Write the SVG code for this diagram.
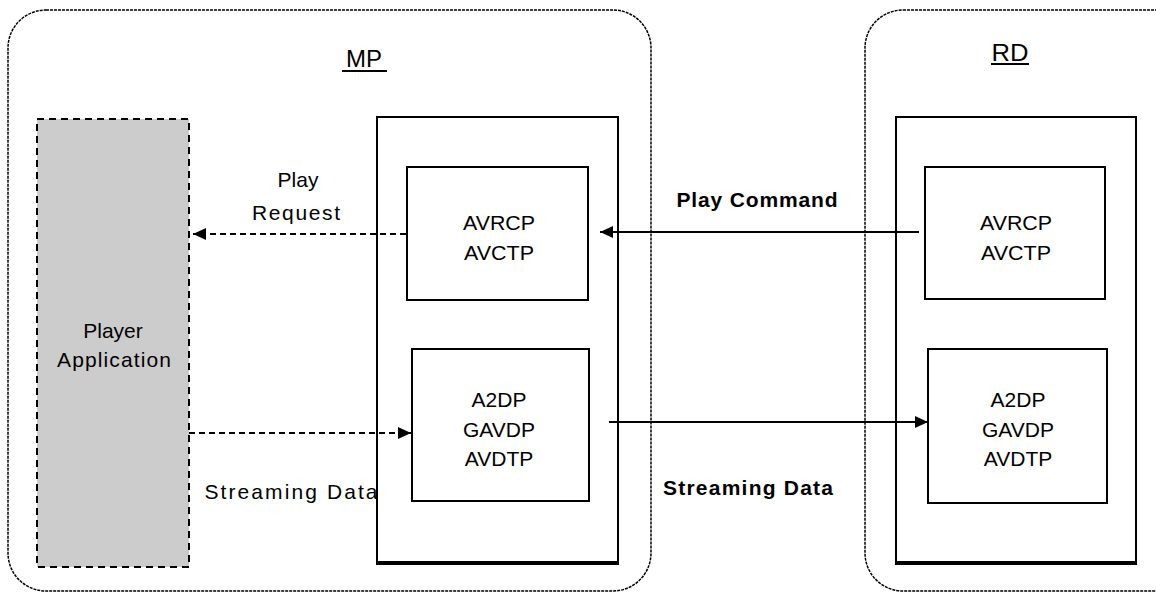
<svg xmlns="http://www.w3.org/2000/svg" width="1156" height="592" viewBox="0 0 1156 592">
<style>
.container{fill:none;stroke:#000;stroke-width:1.5;stroke-dasharray:3 1}
.box{fill:#fff;stroke:#000;stroke-width:2}
.t{font-family:"Liberation Sans",Arial,sans-serif;font-size:21px;fill:#000;text-anchor:middle}
.b{font-weight:bold}
.title{font-family:"Liberation Sans",Arial,sans-serif;font-size:24px;fill:#000;text-anchor:middle}
.solid{fill:none;stroke:#000;stroke-width:2}
.dash{fill:none;stroke:#000;stroke-width:2;stroke-dasharray:6 4}
</style>
<defs>
<marker id="ah" markerUnits="userSpaceOnUse" markerWidth="14" markerHeight="12" refX="13" refY="6" orient="auto">
<path d="M0,0 L13,6 L0,12 Z" fill="#000"/>
</marker>
</defs>
<rect width="1156" height="592" fill="#fff"/>

<g id="mp">
<rect class="container" x="8" y="10" width="643" height="581" rx="38" ry="38"/>
<text class="title" x="364" y="67">MP</text>
<line x1="342" y1="71" x2="387" y2="71" stroke="#000" stroke-width="2"/>
</g>

<g id="rd">
<rect class="container" x="865" y="10" width="330" height="581" rx="38" ry="38"/>
<text class="title" x="1010" y="61" textLength="37" lengthAdjust="spacingAndGlyphs" font-size="27">RD</text>
<line x1="991" y1="64" x2="1029" y2="64" stroke="#000" stroke-width="2"/>
</g>

<g id="player">
<rect x="37" y="119" width="152" height="448" fill="#ccc" stroke="#000" stroke-width="2" stroke-dasharray="7 5"/>
<text class="t" x="113" y="338">Player</text>
<text class="t" x="114" y="367" textLength="114" lengthAdjust="spacing">Application</text>
</g>

<g id="mp-stack">
<rect class="box" x="377" y="117" width="241" height="446"/>
<line x1="376" y1="563" x2="619" y2="563" stroke="#000" stroke-width="4"/>
</g>

<g id="mp-avrcp">
<rect class="box" x="407" y="167" width="181" height="133"/>
<text class="t" x="499" y="230" textLength="72" lengthAdjust="spacingAndGlyphs" font-size="23">AVRCP</text>
<text class="t" x="499" y="260" textLength="70" lengthAdjust="spacingAndGlyphs" font-size="23">AVCTP</text>
</g>

<g id="mp-a2dp">
<rect class="box" x="412" y="349" width="177" height="152"/>
<text class="t" x="499" y="407" font-size="23">A2DP</text>
<text class="t" x="499" y="437" font-size="23">GAVDP</text>
<text class="t" x="499" y="466" font-size="23">AVDTP</text>
</g>

<g id="rd-stack">
<rect class="box" x="896" y="117" width="240" height="446"/>
<line x1="895" y1="563" x2="1137" y2="563" stroke="#000" stroke-width="4"/>
</g>

<g id="rd-avrcp">
<rect class="box" x="925" y="167" width="180" height="132"/>
<text class="t" x="1016" y="230" textLength="72" lengthAdjust="spacingAndGlyphs" font-size="23">AVRCP</text>
<text class="t" x="1016" y="260" textLength="70" lengthAdjust="spacingAndGlyphs" font-size="23">AVCTP</text>
</g>

<g id="rd-a2dp">
<rect class="box" x="928" y="349" width="179" height="154"/>
<text class="t" x="1018" y="407" font-size="23">A2DP</text>
<text class="t" x="1018" y="437" font-size="23">GAVDP</text>
<text class="t" x="1018" y="466" font-size="23">AVDTP</text>
</g>

<g id="connectors">
<line class="dash" x1="406" y1="234" x2="193" y2="234" marker-end="url(#ah)"/>
<line class="solid" x1="919" y1="232" x2="600" y2="232" marker-end="url(#ah)"/>
<line class="dash" x1="189" y1="433" x2="411" y2="433" marker-end="url(#ah)"/>
<line class="solid" x1="609" y1="422" x2="928" y2="422" marker-end="url(#ah)"/>
</g>

<g id="labels">
<text class="t" x="298" y="187">Play</text>
<text class="t" x="296" y="220" textLength="88" lengthAdjust="spacing">Request</text>
<text class="t b" x="757" y="207" textLength="161" lengthAdjust="spacing">Play Command</text>
<text class="t b" x="748" y="495" textLength="170" lengthAdjust="spacing">Streaming Data</text>
<text class="t" x="291" y="499" textLength="173" lengthAdjust="spacing">Streaming Data</text>
</g>
</svg>
